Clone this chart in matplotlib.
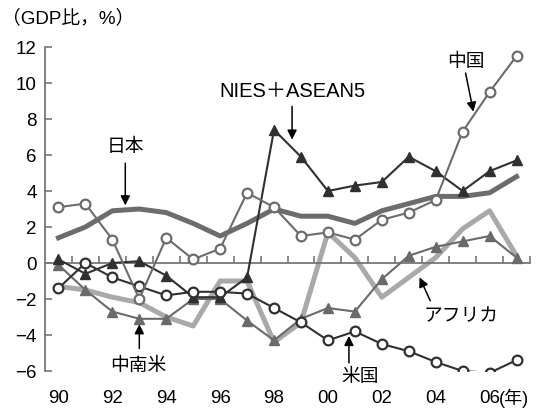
import matplotlib
matplotlib.use('Agg')
import matplotlib.pyplot as plt
import numpy as np

# 年（1990〜2007）
years = list(range(1990, 2008))
xlabels = ['90', '92', '94', '96', '98', '00', '02', '04', '06']

# GDP比（%）
japan = [1.4, 2.0, 2.9, 3.0, 2.8, 2.2, 1.5, 2.2, 3.0, 2.6, 2.6, 2.2, 2.9, 3.3, 3.7, 3.7, 3.9, 4.8]
china = [3.1, 3.3, 1.3, -2.0, 1.4, 0.2, 0.8, 3.9, 3.1, 1.5, 1.7, 1.3, 2.4, 2.8, 3.5, 7.3, 9.5, 11.5]
nies = [0.2, -0.6, 0.0, 0.1, -0.7, -1.9, -1.9, -0.8, 7.4, 5.9, 4.0, 4.3, 4.5, 5.9, 5.1, 4.0, 5.1, 5.7]
latam = [-0.1, -1.5, -2.7, -3.1, -3.1, -2.0, -2.0, -3.2, -4.3, -3.1, -2.5, -2.7, -0.9, 0.4, 0.9, 1.2, 1.5, 0.3]
africa = [-1.3, -1.5, -1.9, -2.2, -3.0, -3.5, -1.0, -1.0, -4.4, -3.3, 1.7, 0.3, -1.9, -0.8, 0.3, 1.9, 2.9, 0.4]
usa = [-1.4, 0.0, -0.8, -1.3, -1.8, -1.6, -1.6, -1.7, -2.5, -3.3, -4.3, -3.8, -4.5, -4.9, -5.5, -6.0, -6.1, -5.4]

FONT = ['Liberation Sans', 'Noto Sans CJK JP', 'DejaVu Sans']
JP = ['Noto Sans CJK JP', 'DejaVu Sans']
plt.rcParams['font.family'] = FONT

fig = plt.figure(figsize=(5.4, 4.12), dpi=100)
ax = fig.add_axes([45 / 540, 1 - 371 / 412, 485 / 540, 324 / 412])

# 太線（マーカーなし）
ax.plot(years, africa, color='#a9a9a9', linewidth=3.6, zorder=2)
ax.plot(years, japan, color='#6c6c6c', linewidth=3.6, zorder=2)

# マーカー付き
ax.plot(years, latam, color='#6a6a6a', linewidth=1.5, marker='^', markersize=7,
        markerfacecolor='#6a6a6a', markeredgecolor='#6a6a6a', zorder=3)
ax.plot(years, nies, color='#303030', linewidth=1.5, marker='^', markersize=7,
        markerfacecolor='#303030', markeredgecolor='#303030', zorder=4)
ax.plot(years, usa, color='#303030', linewidth=1.5, marker='o', markersize=7,
        markerfacecolor='white', markeredgecolor='#303030', markeredgewidth=1.6, zorder=5)
ax.plot(years, china, color='#6c6c6c', linewidth=1.5, marker='o', markersize=7,
        markerfacecolor='white', markeredgecolor='#6c6c6c', markeredgewidth=1.6, zorder=5)

# 軸
ax.set_xlim(1989.5, 2007.5)
ax.set_ylim(-6, 12)
for s in ['top', 'right']:
    ax.spines[s].set_visible(False)
ax.spines['left'].set_color('#777777')
ax.spines['left'].set_linewidth(1.3)
ax.spines['bottom'].set_position(('data', 0))
ax.spines['bottom'].set_color('#777777')
ax.spines['bottom'].set_linewidth(1.3)

ax.set_yticks(range(-6, 13, 2))
ax.set_yticklabels([str(v).replace('-', '\u2212') for v in range(-6, 13, 2)], fontsize=13.5)
ax.tick_params(axis='y', direction='in', length=5, color='#777777', width=1.2, pad=6)

ax.set_xticks([])
ax.set_xticks(np.arange(1990.5, 2007.6, 1), minor=True)
ax.tick_params(axis='x', which='minor', direction='in', length=5, color='#777777', width=1.2)

for i, lab in enumerate(xlabels):
    ax.text(1990 + 2 * i, -0.085, lab, transform=ax.get_xaxis_transform(),
            ha='center', va='center', fontsize=13.5)
ax.annotate('(年)', xy=(2006, -0.085), xycoords=ax.get_xaxis_transform(),
            xytext=(7, 0), textcoords='offset points', ha='left', va='center',
            fontsize=13, family=FONT)

fig.text(2 / 540, 1 - 18 / 412, '（GDP比，%）', ha='left', va='center', fontsize=13.5, family=FONT)

# ラベルと矢印
arrow = dict(arrowstyle='-|>', color='black', lw=1.1, mutation_scale=14, shrinkA=0, shrinkB=0)
labels = [
    ('日本', (1992.48, 6.45), (1992.48, 5.55), (1992.48, 3.2), JP, 13.5),
    ('NIES＋ASEAN5', (1998.67, 9.55), (1998.67, 8.7), (1998.67, 6.85), FONT, 14.5),
    ('中国', (2005.11, 11.2), (2005.11, 10.55), (2005.4, 8.4), JP, 13.5),
    ('アフリカ', (2004.95, -2.9), (2003.8, -2.1), (2003.4, -0.8), JP, 13.5),
    ('中南米', (1992.96, -5.72), (1993.0, -4.75), (1993.0, -3.4), JP, 13.5),
    ('米国', (2001.2, -6.33), (2000.78, -5.55), (2000.78, -4.05), JP, 13.5),
]
for name, pos, tail, tip, fam, size in labels:
    ax.text(pos[0], pos[1], name, ha='center', va='center', fontsize=size, family=fam, zorder=6)
    ax.annotate('', xy=tip, xytext=tail, arrowprops=arrow, zorder=6)

fig.savefig('out.png', dpi=100)
